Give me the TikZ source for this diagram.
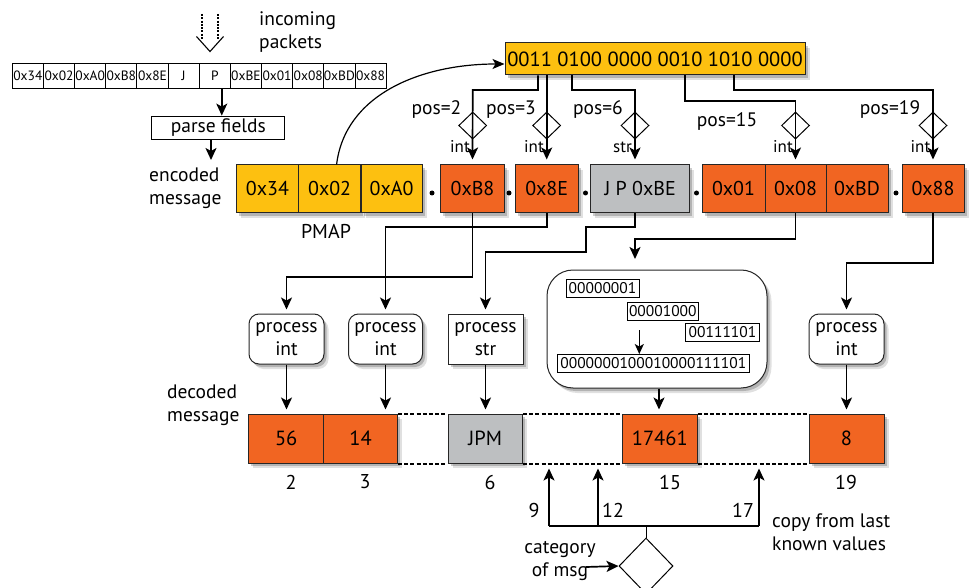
\documentclass[tikz,border=0pt]{standalone}
\usepackage{fontspec}
\setmainfont{PT Sans}
\usetikzlibrary{arrows.meta,shapes.geometric,shadows,calc}
\definecolor{gold}{RGB}{253,192,16}
\definecolor{orng}{RGB}{241,101,34}
\definecolor{gry}{RGB}{189,191,193}
\newcommand{\fsz}[2]{\fontsize{#1}{#2}\selectfont}
\tikzset{
  shdw/.style={drop shadow={shadow xshift=4.5pt,shadow yshift=-5pt,opacity=0.12,fill=black},
               drop shadow={shadow xshift=2.5pt,shadow yshift=-3pt,opacity=0.2,fill=black}},
  conn/.style={line width=1.7pt,-{Stealth[length=12pt,width=11pt,inset=3pt]}},
  plainln/.style={line width=1.7pt},
  pcell/.style={draw,line width=0.9pt,minimum width=31.15pt,minimum height=25pt,inner sep=0pt,font=\fsz{13.5}{15}},
  ebox/.style={draw=black!85,line width=1pt,minimum height=48pt,inner sep=0pt,font=\fsz{20}{23},shdw},
  dbox/.style={draw=black!85,line width=1pt,minimum height=49pt,inner sep=0pt,font=\fsz{20.5}{23},shdw,fill=orng},
  procbox/.style={draw=black!85,line width=1pt,fill=white,minimum width=75pt,minimum height=50pt,inner sep=0pt,align=center,font=\fsz{19.5}{23.5},shdw},
  bitbox/.style={draw,line width=0.9pt,minimum height=18pt,inner sep=1.5pt,font=\fsz{15.5}{16}},
  dmd/.style={draw,diamond,line width=1pt,minimum width=28pt,minimum height=27pt,inner sep=0pt},
  lbl/.style={font=\fsz{19.5}{23.5},inner sep=0pt,align=left},
  small/.style={font=\fsz{17}{18},inner sep=0pt},
  numlbl/.style={font=\fsz{20}{22},inner sep=0pt},
  dashln/.style={line width=2pt,dash pattern=on 4pt off 2.2pt},
  dotnode/.style={circle,fill=black,inner sep=0pt,minimum size=5pt}
}
\begin{document}
\begin{tikzpicture}[x=1pt,y=-1pt]
\useasboundingbox (0,0) rectangle (969,588);

% incoming packets arrow
\coordinate (ia1) at (202,14);
\coordinate (ia2) at (218,14);
\draw[line width=1.7pt,dash pattern=on 2pt off 1.3pt] (ia1) -- ++(0,26);
\draw[line width=1.7pt,dash pattern=on 2pt off 1.3pt] (ia2) -- ++(0,26);
\draw[line width=1.1pt] (196.5,36.5) -- (210,51.5) -- (223.5,36.5);
\node[lbl,anchor=west] (inc) at (259,32) {incoming\\packets};

% packet row
\foreach \t [count=\i] in {0x34,0x02,0xA0,0xB8,0x8E,J,P,0xBE,0x01,0x08,0xBD,0x88}{
  \node[pcell] (c\i) at ({12.3+31.15*(\i-0.5)},75.8) {\t};
}
\node[draw,line width=0.9pt,minimum width=133pt,minimum height=23.3pt,inner sep=0pt,font=\fsz{19.5}{20}] (parse) at (218.3,127.7) {parse fields};
\draw[conn] ([xshift=7pt]c7.south) -- ([xshift=7pt]c7.south |- parse.north);
\coordinate (pend) at (211,160);
\draw[conn] (parse.south -| pend) -- (pend);

\node[lbl,anchor=west] (encl) at (149,188) {encoded\\message};

% binary
\node[ebox,fill=gold,minimum width=300pt,minimum height=32pt,font=\fsz{20.5}{22}] (bin) at (655,59) {0011 0100 0000 0010 1010 0000};

% encoded boxes
\node[ebox,fill=gold,minimum width=61.8pt] (e1) at (267.4,189) {0x34};
\node[ebox,fill=gold,minimum width=62.7pt] (e2) at (329.6,189) {0x02};
\node[ebox,fill=gold,minimum width=61pt] (e3) at (391.5,189) {0xA0};
\node[ebox,fill=orng,minimum width=64pt] (e4) at (472.5,189) {0xB8};
\node[ebox,fill=orng,minimum width=63pt] (e5) at (546.7,189) {0x8E};
\node[ebox,fill=gry,minimum width=99.5pt] (e6) at (640.2,189) {J P 0xBE};
\node[ebox,fill=orng,minimum width=63pt] (e7) at (733.5,189) {0x01};
\node[ebox,fill=orng,minimum width=61pt] (e8) at (795.5,189) {0x08};
\node[ebox,fill=orng,minimum width=62pt] (e9) at (857,189) {0xBD};
\node[ebox,fill=orng,minimum width=62pt] (e10) at (933,189) {0x88};
\node[dotnode] (k1) at (432,193) {};
\node[dotnode] (k2) at (509,193) {};
\node[dotnode] (k3) at (585.5,193) {};
\node[dotnode] (k4) at (696.5,193) {};
\node[dotnode] (k5) at (896,193) {};
\node[font=\fsz{20}{22},inner sep=0pt] (pmap) at (326,231) {PMAP};

% curved arrow PMAP -> binary
\draw[line width=1.2pt,-{Stealth[length=12pt,width=10pt,inset=3pt]}] ([xshift=7pt]e2.north) .. controls (345,95) and (420,64) .. (bin.west |- 0,64);

% diamonds
\node[dmd] (q1) at (472.7,125.5) {};
\node[dmd] (q2) at (546.7,125.5) {};
\node[dmd] (q3) at (635,125.5) {};
\node[dmd] (q4) at (795.5,125.5) {};
\node[dmd] (q5) at (933,125.5) {};

% connectors binary -> encoded
\draw[conn,shorten >=5pt] (bin.south -| 538,0) -- (538,90) -- (472.7,90) -- (e4.north);
\draw[conn,shorten >=5pt] (bin.south -| e5.north) -- (e5.north);
\draw[conn,shorten >=5pt] (bin.south -| 572,0) -- (572,90) -- (635,90) -- (e6.north -| 635,0);
\draw[conn,shorten >=5pt] (bin.south -| 685,0) -- (685,101) -- (795.5,101) -- (e8.north);
\draw[conn,shorten >=5pt] (bin.south -| 734,0) -- (734,90) -- (933,90) -- (e10.north);

% pos labels
\node[lbl] (p2) at (436.5,110) {pos=2};
\node[lbl] (p3) at (511,110) {pos=3};
\node[lbl] (p6) at (598,110) {pos=6};
\node[lbl] (p15) at (727,122) {pos=15};
\node[lbl] (p19) at (890,110) {pos=19};
\node[small,anchor=east] (t1) at (470,147) {int};
\node[small,anchor=east] (t2) at (544,147) {int};
\node[small,anchor=east] (t3) at (632,147) {str};
\node[small,anchor=east] (t4) at (793,147) {int};
\node[small,anchor=east] (t5) at (930.5,147) {int};

% process boxes
\node[procbox,rounded corners=10pt] (pi1) at (286.5,339) {process\\int};
\node[procbox,rounded corners=10pt,minimum width=74pt] (pi2) at (385.5,339) {process\\int};
\node[procbox] (ps) at (485.5,339) {process\\str};
\node[procbox,rounded corners=10pt] (pi4) at (846.5,339) {process\\int};

% big rounded box
\node[draw=black!85,line width=1pt,fill=white,rounded corners=26pt,minimum width=220pt,minimum height=118pt,shdw] (big) at (657,329) {};
\node[bitbox,minimum width=73pt] (b1) at (602.5,288) {00000001};
\node[bitbox,minimum width=71pt] (b2) at (662.8,311) {00001000};
\node[bitbox,minimum width=73.6pt] (b3) at (722.5,332) {00111101};
\node[bitbox,minimum width=192pt] (b4) at (653.3,363.5) {0000000100010000111101};
\coordinate (sa) at (639.3,330);
\draw[line width=1.5pt,-{Stealth[length=10pt,width=9pt,inset=2.5pt]}] (sa) -- (sa |- b4.north) ;

% encoded -> process connectors
\draw[conn,shorten >=4pt] (e4.south) -- (472.5,277) -| (pi1.north);
\draw[conn,shorten >=4pt] (e5.south) -- (546.7,227) -| (pi2.north);
\draw[conn,shorten >=4pt] (e6.south -| 635,0) -- (635,227) -- (586,227) -- (586,252) -| (ps.north);
\coordinate (bigin) at (635,259);
\draw[conn] (e8.south) -- (795.5,239) -| (bigin);
\draw[conn,shorten >=4pt] (e10.south) -- (933,263) -| (pi4.north);

% decoded
\node[lbl,anchor=west] (decl) at (167,405) {decoded\\message};
\node[dbox,minimum width=75pt] (d1) at (286.2,438.5) {56};
\node[dbox,minimum width=73.7pt] (d2) at (360.6,438.5) {14};
\node[dbox,minimum width=74.4pt,fill=gry] (d3) at (485.2,438.5) {JPM};
\node[dbox,minimum width=74.5pt] (d4) at (659.8,438.5) {17461};
\node[dbox,minimum width=75pt] (d5) at (846.5,438.5) {8};
\draw[dashln] (d2.north east) -- (d3.north west);
\draw[dashln] (d2.south east) -- (d3.south west);
\draw[dashln] (d3.north east) -- (d4.north west);
\draw[dashln] (d3.south east) -- (d4.south west);
\draw[dashln] (d4.north east) -- (d5.north west);
\draw[dashln] (d4.south east) -- (d5.south west);

\draw[conn,shorten >=4pt] (pi1.south) -- (pi1.south |- d1.north);
\draw[conn,shorten >=4pt] (pi2.south) -- (pi2.south |- d2.north);
\draw[conn,shorten >=4pt] (ps.south) -- (ps.south |- d3.north);
\draw[conn,shorten >=4pt] (big.south -| 659,0) -- (d4.north -| 659,0);
\draw[conn,shorten >=4pt] (pi4.south) -- (pi4.south |- d5.north);

% index labels
\node[numlbl] (n2) at (291,482) {2};
\node[numlbl] (n3) at (365,482) {3};
\node[numlbl] (n6) at (490,482) {6};
\node[numlbl] (n15) at (670,482) {15};
\node[numlbl] (n19) at (846,482) {19};

% bottom: category
\coordinate (h1) at (549,525.7);
\coordinate (h2) at (598,525.7);
\coordinate (h3) at (759,525.7);
\draw[plainln] (h1) -- (h3);
\draw[conn,shorten >=5pt] (h1) -- (h1 |- d4.south);
\draw[conn,shorten >=5pt] (h2) -- (h2 |- d4.south);
\draw[conn,shorten >=5pt] (h3) -- (h3 |- d4.south);
\node[dmd,minimum width=54pt,minimum height=56pt] (cat) at (646,566) {};
\draw[line width=0.9pt] (cat.north) -- (cat.north |- h1);
\node[numlbl] (n9) at (534,510) {9};
\node[numlbl] (n12) at (613,510) {12};
\node[numlbl] (n17) at (743,510) {17};
\node[lbl,align=center] (catl) at (560,561) {category\\of msg};
\coordinate (ca) at (586,567);
\draw[conn] (ca) -- (cat.west);
\node[lbl,anchor=west] (copy) at (772,532) {copy from last\\known values};
\end{tikzpicture}
\end{document}
